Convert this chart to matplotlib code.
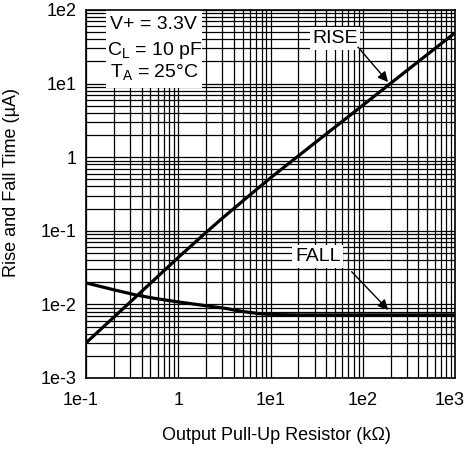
import matplotlib
matplotlib.use("Agg")
import matplotlib.pyplot as plt
import matplotlib.transforms as mtransforms
from matplotlib.patches import Rectangle
from matplotlib.ticker import LogLocator, NullFormatter

plt.rcParams['font.family'] = ['Liberation Sans', 'DejaVu Sans']

# Data
rise_r = [0.1, 0.3, 1, 2, 3, 5, 10, 30, 100, 300, 1000]
rise_t = [0.003, 0.0107, 0.0434, 0.095, 0.148, 0.254, 0.524, 1.55, 5.07, 15.0, 49.0]
fall_r = [0.1, 0.2, 0.35, 0.55, 1, 2, 3.3, 5, 7.5, 10, 20, 100, 1000]
fall_t = [0.0196, 0.0158, 0.0134, 0.0121, 0.0108, 0.0096, 0.0088, 0.0080, 0.0075, 0.0073, 0.0072, 0.0072, 0.0072]

x_ticks = [0.1, 1, 10, 100, 1000]
x_labels = ["1e-1", "1", "1e1", "1e2", "1e3"]
y_ticks = [0.001, 0.01, 0.1, 1, 10, 100]
y_labels = ["1e-3", "1e-2", "1e-1", "1", "1e1", "1e2"]

fig = plt.figure(figsize=(4.67, 4.49), dpi=100)
ax = fig.add_axes([86/467, 1-378/449, (455-86)/467, (378-10)/449])
ax.set_xscale('log')
ax.set_yscale('log')
ax.set_xlim(0.1, 1000)
ax.set_ylim(0.001, 100)

ax.plot(rise_r, rise_t, color='black', lw=2.3, solid_capstyle='butt', zorder=3)
ax.plot(fall_r, fall_t, color='black', lw=2.3, solid_capstyle='butt', zorder=3)

ax.xaxis.set_minor_locator(LogLocator(base=10, subs=range(2, 10), numticks=20))
ax.yaxis.set_minor_locator(LogLocator(base=10, subs=range(2, 10), numticks=20))
ax.xaxis.set_minor_formatter(NullFormatter())
ax.yaxis.set_minor_formatter(NullFormatter())
ax.grid(True, which='both', color='black', lw=0.9)
ax.tick_params(which='both', length=0, labelsize=13, colors='black')
ax.tick_params(axis='x', pad=10)
ax.tick_params(axis='y', pad=7)
ax.set_xticks(x_ticks, x_labels)
ax.set_yticks(y_ticks, y_labels)
ax.set_xlim(0.1, 1000)
ax.set_ylim(0.001, 100)
xl = ax.get_xticklabels()
for i in (0, len(xl) - 1):
    xl[i].set_transform(xl[i].get_transform() +
                        mtransforms.ScaledTranslation(-5/100, 0, fig.dpi_scale_trans))
for s in ax.spines.values():
    s.set_linewidth(1.2)

ax.set_xlabel("Output Pull-Up Resistor (k\u03a9)", fontsize=13)
ax.xaxis.set_label_coords(0.515, -0.133)
ax.set_ylabel("Rise and Fall Time (\u00b5A)", fontsize=13)
ax.yaxis.set_label_coords(-0.18, 0.53)

# white box behind the condition texts
ax.add_patch(Rectangle((0.055, 0.788), 0.26, 0.212, transform=ax.transAxes,
                       facecolor='white', edgecolor='none', zorder=2.5))
tk = dict(transform=ax.transAxes, fontsize=14, va='baseline', ha='left', zorder=4)
ax.text(0.065, (378-29)/368, "V+ = 3.3V", **tk)
ax.text(0.058, (378-55)/368, "C$_\\mathregular{L}$ = 10 pF", **tk)
ax.text(0.065, (378-78)/368, "T$_\\mathregular{A}$ = 25\u00b0C", **tk)

box = dict(facecolor='white', edgecolor='none', pad=2)
ax.text(50, 41, "RISE", fontsize=14, ha='center', va='center', bbox=box, zorder=4)
ax.annotate("", xy=(188, 10.5), xytext=(88.7, 31.4), zorder=4,
            arrowprops=dict(arrowstyle='-|>', color='black', lw=1.0, shrinkA=0, shrinkB=0, mutation_scale=15))
ax.text(32.7, 0.0448, "FALL", fontsize=14, ha='center', va='center', bbox=box, zorder=4)
ax.annotate("", xy=(189, 0.0084), xytext=(75.9, 0.0278), zorder=4,
            arrowprops=dict(arrowstyle='-|>', color='black', lw=1.0, shrinkA=0, shrinkB=0, mutation_scale=15))

fig.savefig("out.png", dpi=100)
